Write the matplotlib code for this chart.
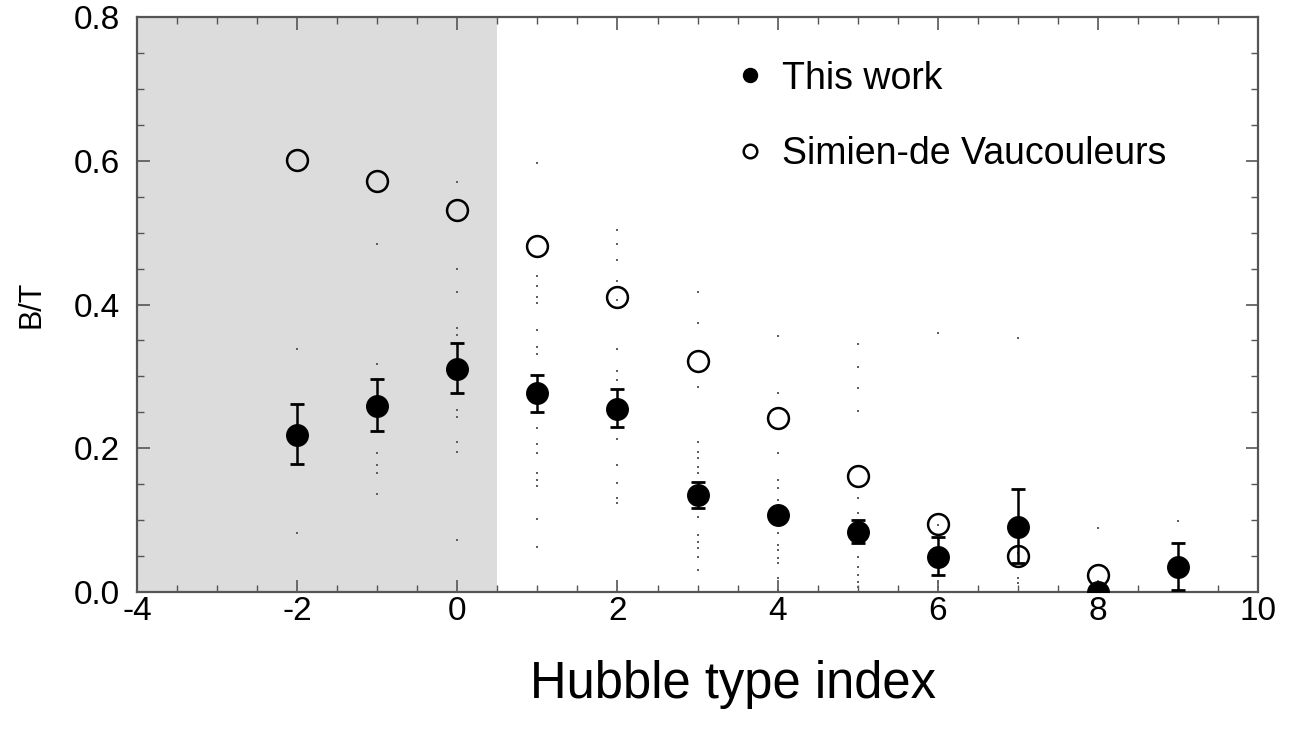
import numpy as np
import matplotlib
matplotlib.use("Agg")
import matplotlib.pyplot as plt
from matplotlib.ticker import MultipleLocator

plt.rcParams['font.family'] = ['Liberation Sans', 'DejaVu Sans']
plt.rcParams['axes.unicode_minus'] = False

# Hubble types
types = [-2, -1, 0, 1, 2, 3, 4, 5, 6, 7, 8, 9]

# This work: mean B/T with asymmetric error bars
bt_this = [0.219, 0.259, 0.311, 0.277, 0.255, 0.135, 0.107, 0.084, 0.049, 0.091, 0.0, 0.035]
bt_upper = [0.261, 0.296, 0.346, 0.302, 0.282, 0.153, 0.117, 0.100, 0.076, 0.143, 0.0, 0.068]
bt_lower = [0.178, 0.224, 0.277, 0.251, 0.230, 0.117, 0.098, 0.068, 0.024, 0.040, 0.0, 0.003]

# Simien & de Vaucouleurs
sv_types = [-2, -1, 0, 1, 2, 3, 4, 5, 6, 7, 8]
bt_sv = [0.601, 0.572, 0.532, 0.481, 0.411, 0.322, 0.242, 0.161, 0.095, 0.050, 0.024]

# individual galaxies
gal_m2 = [0.338, 0.082]
gal_m1 = [0.484, 0.317, 0.194, 0.177, 0.166, 0.136]
gal_0 = [0.571, 0.449, 0.418, 0.367, 0.358, 0.253, 0.243, 0.209, 0.195, 0.072]
gal_1 = [0.597, 0.440, 0.426, 0.411, 0.402, 0.365, 0.341, 0.331, 0.228, 0.206,
         0.194, 0.165, 0.156, 0.147, 0.102, 0.063]
gal_2 = [0.504, 0.484, 0.462, 0.433, 0.406, 0.338, 0.307, 0.295, 0.213, 0.177,
         0.152, 0.131, 0.124]
gal_3 = [0.418, 0.374, 0.285, 0.209, 0.195, 0.186, 0.174, 0.165, 0.105, 0.079,
         0.070, 0.061, 0.049, 0.031]
gal_4 = [0.356, 0.277, 0.193, 0.156, 0.145, 0.128, 0.082, 0.065, 0.058, 0.047,
         0.040, 0.019, 0.003]
gal_5 = [0.345, 0.313, 0.284, 0.252, 0.131, 0.110, 0.049, 0.035, 0.024, 0.014, 0.007]
gal_6 = [0.361, 0.093, 0.074, 0.014, 0.007, 0.0]
gal_7 = [0.354, 0.054, 0.019, 0.012]
gal_8 = [0.089]
gal_9 = [0.099]
galaxies = [gal_m2, gal_m1, gal_0, gal_1, gal_2, gal_3, gal_4, gal_5, gal_6, gal_7, gal_8, gal_9]

fig = plt.figure(figsize=(12.89, 7.41), dpi=100)
ax = fig.add_axes([0.1063, 0.201, 0.8697, 0.776])

ax.axvspan(-4, 0.5, color='#dcdcdc', zorder=0, lw=0)

for t, g in zip(types, galaxies):
    ax.plot([t] * len(g), g, ls='none', marker='s', ms=2.0, color='#606060', mew=0, zorder=2)

yerr = [np.array(bt_this) - np.array(bt_lower), np.array(bt_upper) - np.array(bt_this)]
ax.errorbar(types, bt_this, yerr=yerr, fmt='none', ecolor='black', elinewidth=1.8,
            capsize=5, capthick=2.0, zorder=3)
ax.plot(types, bt_this, ls='none', marker='o', ms=15.5, color='black', zorder=4,
        label='This work')
ax.plot(sv_types, bt_sv, ls='none', marker='o', ms=15, mfc='none', mec='black',
        mew=1.8, zorder=4, label='Simien-de Vaucouleurs')

ax.set_xlim(-4, 10)
ax.set_ylim(0, 0.8)
ax.xaxis.set_major_locator(MultipleLocator(2))
ax.xaxis.set_minor_locator(MultipleLocator(0.5))
ax.yaxis.set_major_locator(MultipleLocator(0.2))
ax.yaxis.set_minor_locator(MultipleLocator(0.05))
ax.set_yticks([0, 0.2, 0.4, 0.6, 0.8], ['0.0', '0.2', '0.4', '0.6', '0.8'])
ax.tick_params(which='both', direction='in', top=True, right=True, color='#555555',
               labelsize=24)
ax.tick_params(axis='x', pad=3)
ax.tick_params(axis='y', pad=12)
ax.tick_params(which='major', length=9, width=1.2)
ax.tick_params(which='minor', length=5, width=1.0)
for s in ax.spines.values():
    s.set_color('#555555')
    s.set_linewidth(1.6)

ax.set_ylabel('B/T', fontsize=22, labelpad=20)

leg = ax.legend(loc='upper left', bbox_to_anchor=(0.50, 0.983), frameon=False,
                fontsize=27, markerscale=0.65, handletextpad=0.35, labelspacing=1.05,
                handlelength=1.0)

fig.text(0.569, 0.076, 'Hubble type index', fontsize=36.5, ha='center', va='center')

fig.savefig('out.png', dpi=100)
